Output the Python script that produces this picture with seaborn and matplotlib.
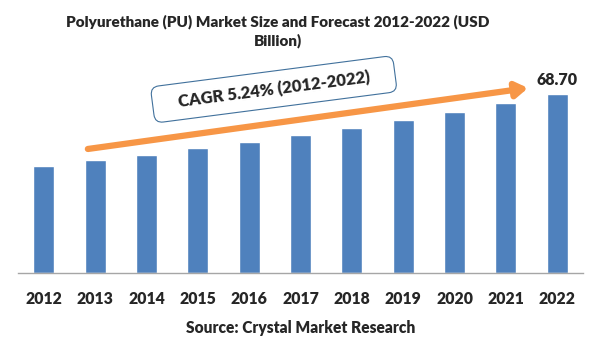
import numpy as np
import seaborn as sns
import matplotlib.pyplot as plt

years = ['2012', '2013', '2014', '2015', '2016', '2017', '2018', '2019', '2020', '2021', '2022']
market_size = [41.1, 43.4, 45.3, 48.0, 50.3, 53.0, 55.7, 58.7, 61.8, 65.2, 68.70]
cagr_text = 'CAGR 5.24% (2012-2022)'
title = 'Polyurethane (PU) Market Size and Forecast 2012-2022 (USD\nBillion)'
source = 'Source: Crystal Market Research'

sns.set_style('white')
plt.rcParams['font.family'] = ['Lato', 'DejaVu Sans']
wt = 'heavy'

fig = plt.figure(figsize=(6.01, 3.61), dpi=100)
ax = fig.add_axes([18 / 601, 88 / 361, 565 / 601, 213 / 361])

sns.barplot(x=years, y=market_size, color='#4F81BD', width=0.41, saturation=1, ax=ax)
ax.set_xlim(-0.5, 10.5)
ax.set_ylim(0, 81.75)

for s in ['left', 'right', 'top']:
    ax.spines[s].set_visible(False)
ax.spines['bottom'].set_color('#A6A6A6')
ax.spines['bottom'].set_linewidth(1)
ax.set_yticks([])
ax.set_xticks(np.arange(len(years)))
ax.set_xticklabels(years, fontsize=11.3, fontweight=wt)
ax.set_xticks(np.arange(len(years) + 1) - 0.5, minor=True)
ax.tick_params(axis='x', which='major', length=0, pad=13)
ax.tick_params(axis='x', which='minor', length=5, color='#A6A6A6', width=1, direction='out')
ax.set_xlabel(source, fontsize=11.2, fontweight=wt, labelpad=9)

# last value label
ax.text(len(years) - 1, market_size[-1] + 5.2, f'{market_size[-1]:.2f}',
        ha='center', va='center', fontsize=11.5, fontweight=wt)

# growth arrow
ax.annotate('', xy=(9.43, 71.0), xytext=(0.86, 47.6),
            arrowprops=dict(arrowstyle='-|>,head_length=0.7,head_width=0.45',
                            color='#F79646', lw=4.5, shrinkA=0, shrinkB=0))

# CAGR callout
ax.text(4.48, 70.5, '    ' + cagr_text + '    ', rotation=7.4, rotation_mode='anchor',
        ha='center', va='center', fontsize=12, fontweight=wt,
        bbox=dict(boxstyle='round,pad=0.6,rounding_size=0.5', fc='white',
                  ec='#41719C', lw=0.8))

fig.text(278 / 601, 1 - 31 / 361, title, ha='center', va='center',
         fontsize=11.0, fontweight=wt, linespacing=1.35)

fig.savefig('out.png', dpi=100)
